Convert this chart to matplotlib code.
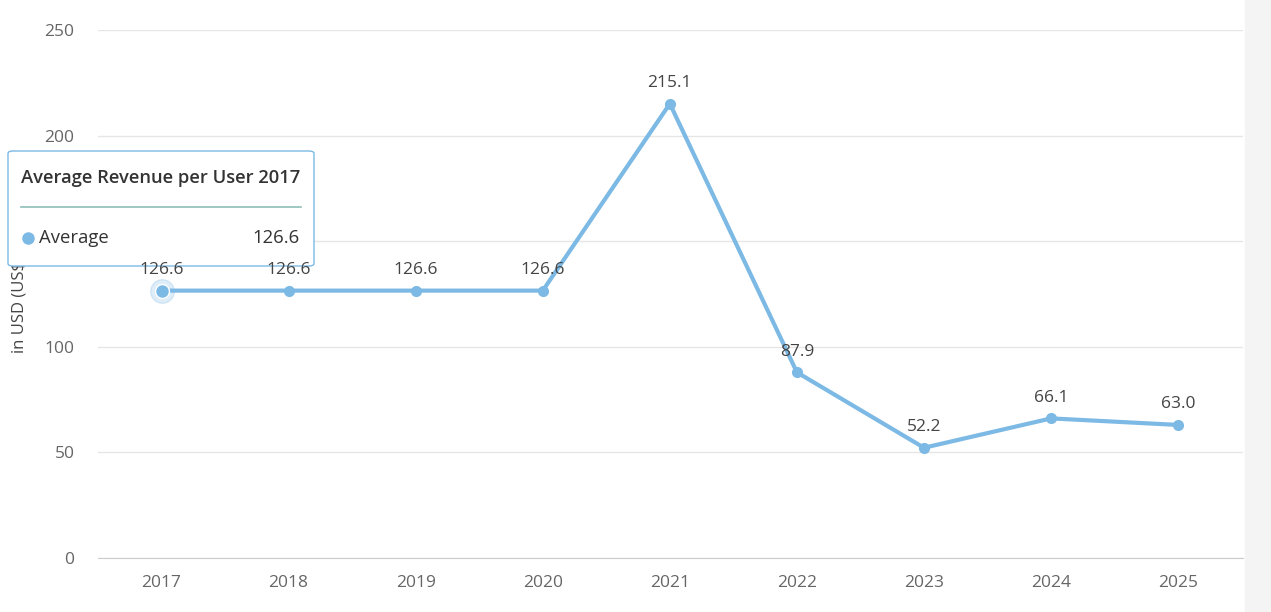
import matplotlib.pyplot as plt
from matplotlib.patches import FancyBboxPatch, Rectangle

plt.rcParams['font.family'] = ['Open Sans', 'DejaVu Sans']

years = [2017, 2018, 2019, 2020, 2021, 2022, 2023, 2024, 2025]
arpu = [126.6, 126.6, 126.6, 126.6, 215.1, 87.9, 52.2, 66.1, 63.0]
y_ticks = [0, 50, 100, 150, 200, 250]

line_color = '#7cb9e4'
text_color = '#666666'
W, H = 1271, 612

fig = plt.figure(figsize=(W / 100, H / 100), dpi=100)
# faint grey strip on the right edge
fig.patches.append(Rectangle((1245 / W, 0), 1, 1, transform=fig.transFigure,
                             color='#f4f4f4', zorder=0))
ax = fig.add_axes([98 / W, 54 / H, 1145 / W, 528 / H])
ax.set_facecolor('white')

ax.plot(years, arpu, color=line_color, lw=3, marker='o', ms=7, zorder=3,
        clip_on=False)
# hovered point
ax.plot(years[0], arpu[0], 'o', ms=17, color=line_color, alpha=0.25, zorder=2,
        clip_on=False)
ax.plot(years[0], arpu[0], 'o', ms=10, color=line_color, mec='white', mew=1,
        zorder=4, clip_on=False)

for x, y in zip(years, arpu):
    ax.annotate(f'{y:.1f}', (x, y), xytext=(0, 9), textcoords='offset points',
                ha='center', va='bottom', fontsize=12.5, color='#444444',
                zorder=20)

ax.set_xlim(2016.5, 2025.51)
ax.set_ylim(0, 250)
ax.set_xticks(years)
ax.set_xticklabels([str(y) for y in years])
ax.set_yticks(y_ticks)
ax.grid(axis='y', color='#e6e6e6', lw=1)
ax.set_axisbelow(True)
for s in ['top', 'right', 'left']:
    ax.spines[s].set_visible(False)
ax.spines['bottom'].set_color('#cccccc')
ax.tick_params(axis='both', length=0, labelsize=12.5, colors=text_color)
ax.tick_params(axis='x', pad=12)
ax.tick_params(axis='y', pad=17)
ax.set_ylabel('in USD (US$)', fontsize=12, color='#444444')
ax.yaxis.set_label_coords(-70 / 1145, (558 - 305) / 528)

# tooltip, drawn inside the axes so the data labels stay on top of it
tf = fig.transFigure
box = FancyBboxPatch((8 / W, 1 - 266 / H), 306 / W, 115 / H,
                     boxstyle='round,pad=0,rounding_size=0.004',
                     transform=tf, facecolor='white',
                     edgecolor='#7cb9e4', lw=1, zorder=10, clip_on=False)
ax.add_patch(box)
ax.text(21 / W, 1 - 178 / H, 'Average Revenue per User 2017', transform=tf,
        fontsize=13.2, color='#333333', fontweight='semibold', va='center',
        zorder=11, clip_on=False)
ax.add_line(plt.Line2D([21 / W, 301 / W], [1 - 207 / H, 1 - 207 / H],
                       transform=tf, color='#8fbfb8', lw=1.2, zorder=11,
                       clip_on=False))
ax.add_line(plt.Line2D([28 / W], [1 - 238 / H], transform=tf, marker='o', ms=8,
                       color=line_color, zorder=11, clip_on=False))
ax.text(39 / W, 1 - 238 / H, 'Average', transform=tf, fontsize=13.3,
        color='#333333', va='center', zorder=11, clip_on=False)
ax.text(300 / W, 1 - 238 / H, '126.6', transform=tf, fontsize=13.3,
        color='#333333', va='center', ha='right', zorder=11, clip_on=False)

fig.savefig('out.png', dpi=100)
